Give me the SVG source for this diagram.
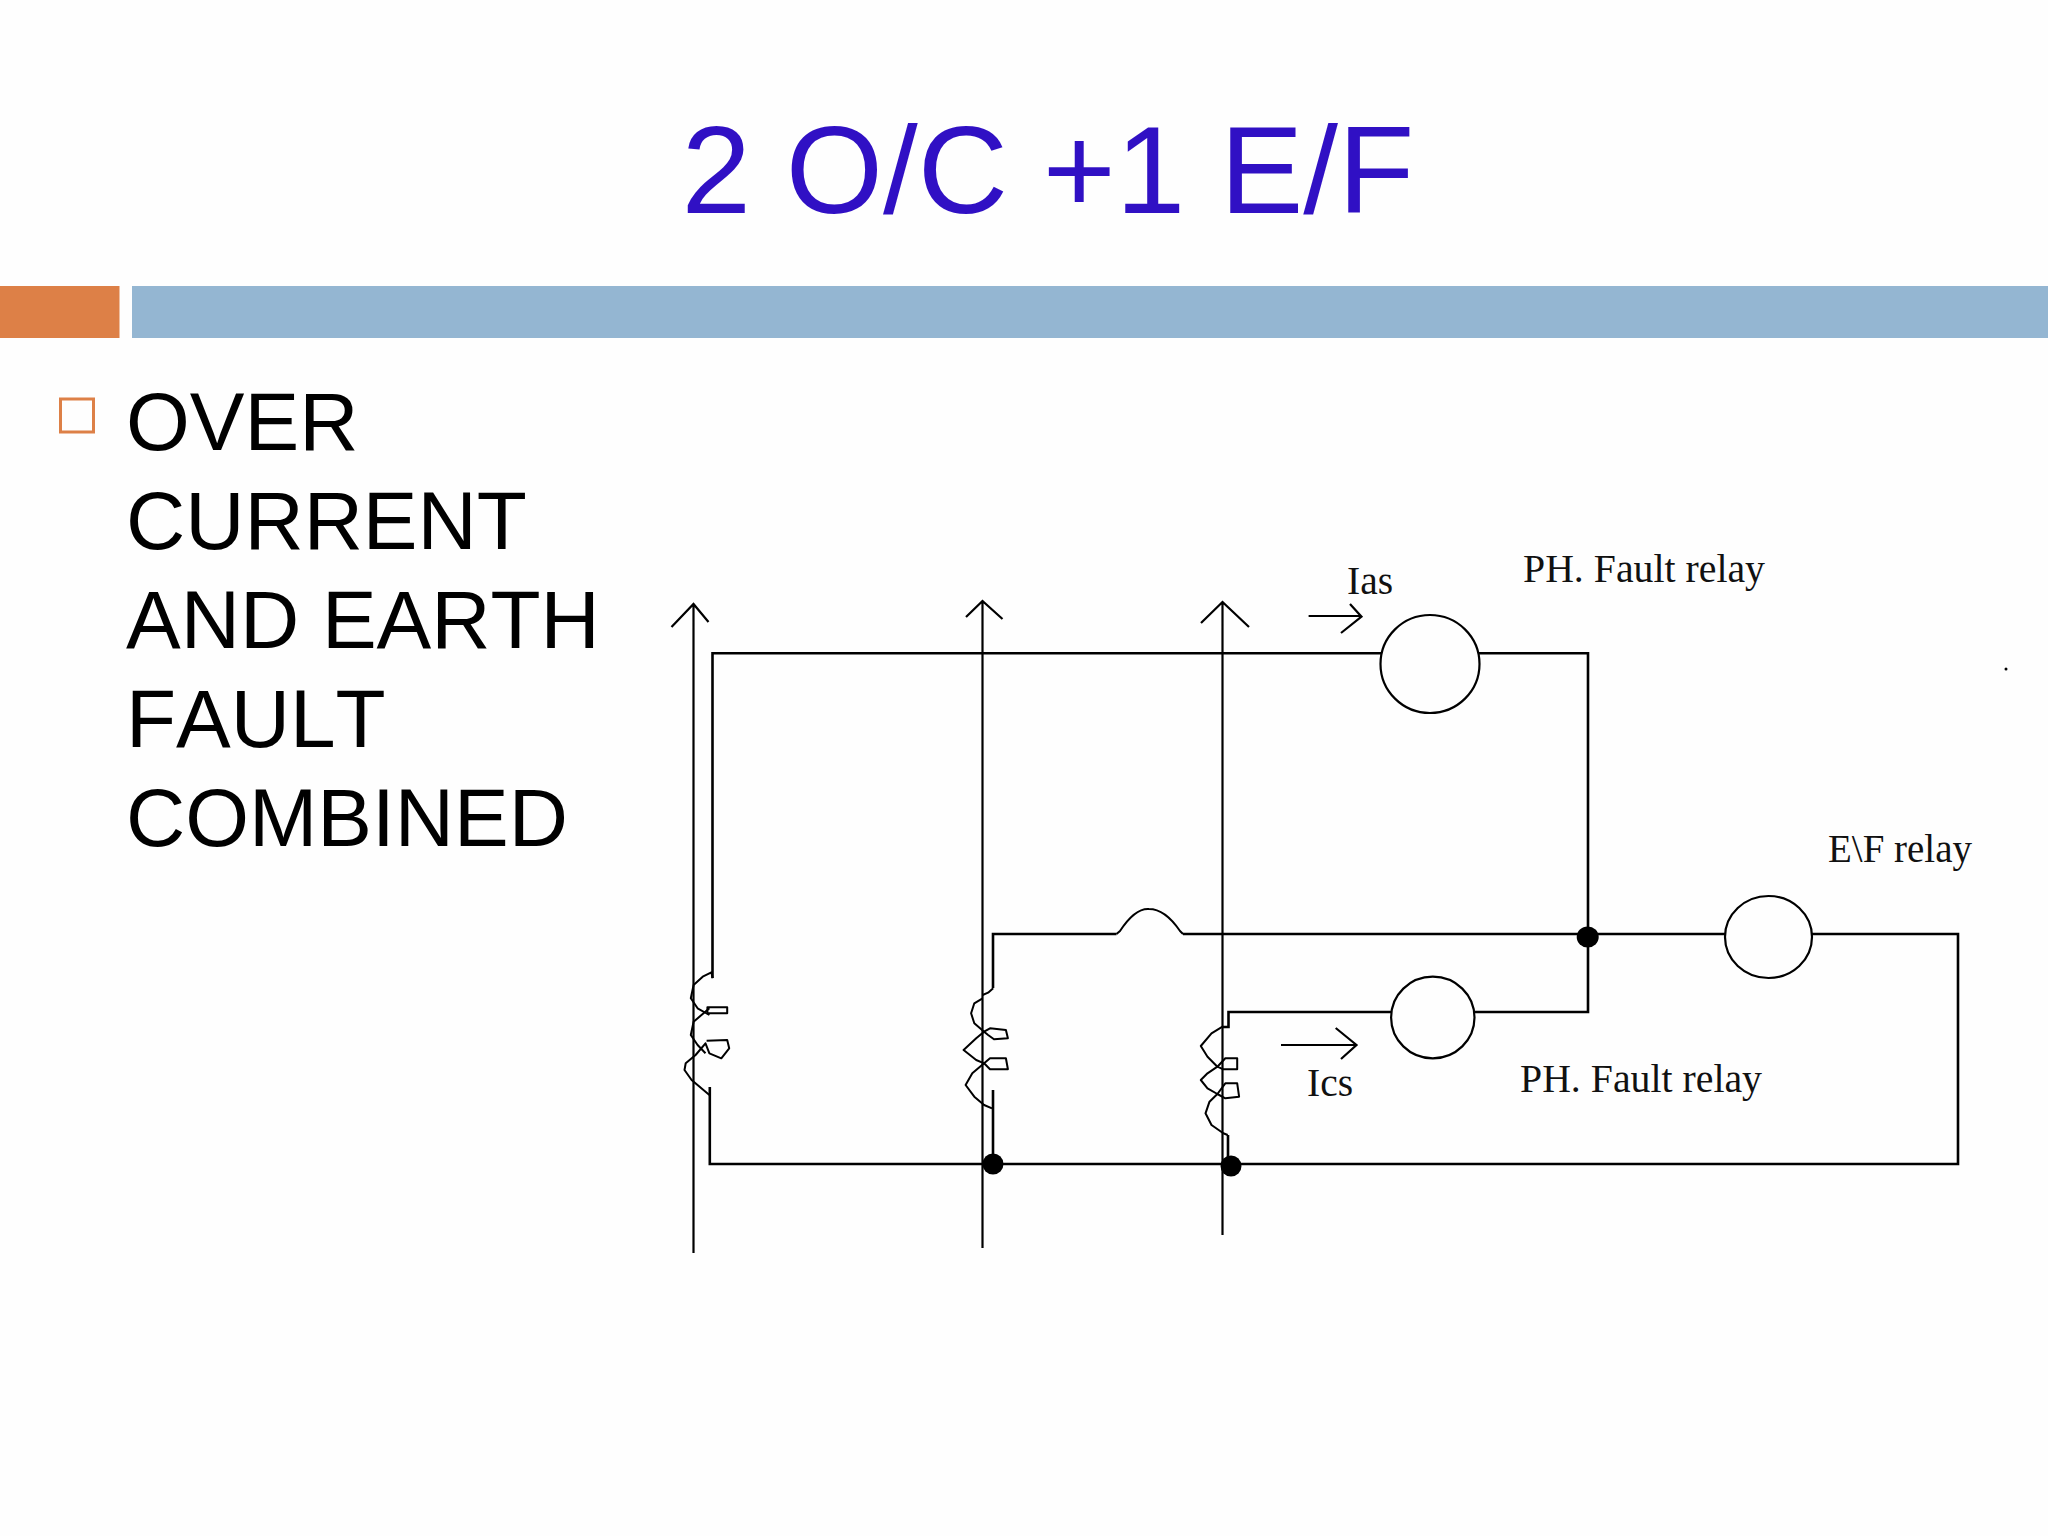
<svg xmlns="http://www.w3.org/2000/svg" width="2048" height="1536" viewBox="0 0 2048 1536">
<style>
.w{fill:none;stroke:#000;stroke-width:2.6}
.v{fill:none;stroke:#000;stroke-width:2.2}
.c{fill:none;stroke:#000;stroke-width:2;stroke-linejoin:round}
.d{fill:#000}
.s{font-family:"Liberation Sans",Arial,sans-serif}
.l{font-family:"Liberation Serif","Times New Roman",serif;font-size:40px;fill:#111}
.b{font-size:82px;fill:#000;font-kerning:none}
</style>
<rect width="2048" height="1536" fill="#fefefe"/>
<g id="header">
<text class="s" x="1048" y="213" font-size="125" fill="#3010c4" text-anchor="middle">2 O/C +1 E/F</text>
<rect x="0" y="286" width="119.500" height="52" fill="#dd8047"/>
<rect x="132" y="286" width="1916" height="52" fill="#94b6d2"/>
</g>
<g id="bullet-text">
<rect x="60.500" y="399" width="33" height="33" fill="none" stroke="#dd8047" stroke-width="3"/>
<text class="s b" x="126" y="450">OVER</text>
<text class="s b" x="126" y="549">CURRENT</text>
<text class="s b" x="126" y="648">AND EARTH</text>
<text class="s b" x="126" y="747">FAULT</text>
<text class="s b" x="126" y="846">COMBINED</text>
</g>
<g id="connectors">
<path class="v" d="M693.500 1253V604M671.500 627L693.500 604L708.500 622"/>
<path class="v" d="M982.500 1248V601M966 617L982.500 601L1002.500 619"/>
<path class="v" d="M1222.500 1235V602M1201 623L1222.500 602L1249 627"/>
<path class="w" d="M712.500 978V653.300H1382M1478 653.300H1588V1012H1474M1391 1012H1228.500V1027H1222.500"/>
<path class="w" d="M993 988V934H1116.500M1183 934H1726M1812 934H1958V1164H709.800V1087"/>
<path class="c" d="M1116.500 934L1120 931Q1135 908 1149 909Q1165 909 1180 931L1183 934"/>
<path class="w" d="M993 1090V1164M1228 1135V1164"/>
<path class="v" d="M1308.600 616H1361.500M1350 604L1361.500 616.700L1341 633"/>
<path class="v" d="M1281 1045H1356.500M1335.700 1028L1356.500 1045L1341 1059"/>
</g>
<g id="relay-ias"><ellipse class="v" cx="1430" cy="664" rx="49.500" ry="49"/></g>
<g id="relay-ics"><ellipse class="v" cx="1432.800" cy="1017.500" rx="41.700" ry="40.800"/></g>
<g id="relay-ef"><ellipse class="v" cx="1768.500" cy="937" rx="43.500" ry="41"/></g>
<g id="ct-a">
<path class="c" d="M712.600 978.300L711.400 972.300L702.700 976.700L693.600 985L690.800 998.300L697.600 1008.300L709.400 1015"/>
<path class="c" d="M709.400 1008.300L693.600 1021.700L690.800 1035L697.600 1045L705.500 1053.300"/>
<rect class="c" x="707.400" y="1007.300" width="19.800" height="6"/>
<path class="c" d="M706.600 1040.700L727.200 1040L729.200 1048.300L721.300 1058.300L709.400 1053.300L705.500 1043.300L695.600 1055L685.700 1063.300L684.500 1070L691.600 1080L709.400 1095"/>
</g>
<g id="ct-b">
<path class="c" d="M993.200 988.300L988.100 992.700L982.600 995M982.600 998.300L974.300 1003.300L971.100 1013.300L974.300 1023.300L984.100 1031.700L976.200 1038.300L963.600 1050L976.200 1060L984.100 1063.300L972.300 1073.300L965.600 1085L974.300 1096.700L984.100 1105L992 1108.300"/>
<path class="c" d="M984.100 1031.700L990 1028.300L1005.900 1030L1007.900 1038.300L994 1039.300L988.100 1035Z"/>
<path class="c" d="M984.100 1063.300L990 1058.300H1005.900L1007.900 1069.300H990Z"/>
</g>
<g id="ct-c">
<path class="c" d="M1222.500 1026.700L1211.500 1033.300L1200.800 1046L1207.500 1056.700L1217.400 1066.700L1207.500 1073.300L1200.800 1080L1207.500 1088.300L1217.400 1094L1209.500 1101.700L1205.500 1113.300L1211.500 1125L1223.300 1133.300L1227.700 1135"/>
<path class="c" d="M1217.400 1066.700L1225.300 1058.300H1237.200V1069.300H1223.300Z"/>
<path class="c" d="M1217.400 1094L1225.300 1083.300H1237.200L1239.100 1096.700L1225.300 1098.300Z"/>
</g>
<g id="junctions">
<ellipse class="d" cx="1587.700" cy="937" rx="11" ry="10.500"/>
<ellipse class="d" cx="993" cy="1164" rx="10.500" ry="10.500"/>
<ellipse class="d" cx="1231" cy="1166" rx="10.500" ry="10.500"/>
<circle class="d" cx="2006" cy="669" r="1.500"/>
</g>
<g id="labels">
<text class="l" x="1347" y="594" textLength="46" lengthAdjust="spacingAndGlyphs">Ias</text>
<text class="l" x="1523" y="582" textLength="242" lengthAdjust="spacingAndGlyphs">PH. Fault relay</text>
<text class="l" x="1828" y="862" textLength="144" lengthAdjust="spacingAndGlyphs">E\F relay</text>
<text class="l" x="1307" y="1096" textLength="46" lengthAdjust="spacingAndGlyphs">Ics</text>
<text class="l" x="1520" y="1092" textLength="242" lengthAdjust="spacingAndGlyphs">PH. Fault relay</text>
</g>
</svg>
